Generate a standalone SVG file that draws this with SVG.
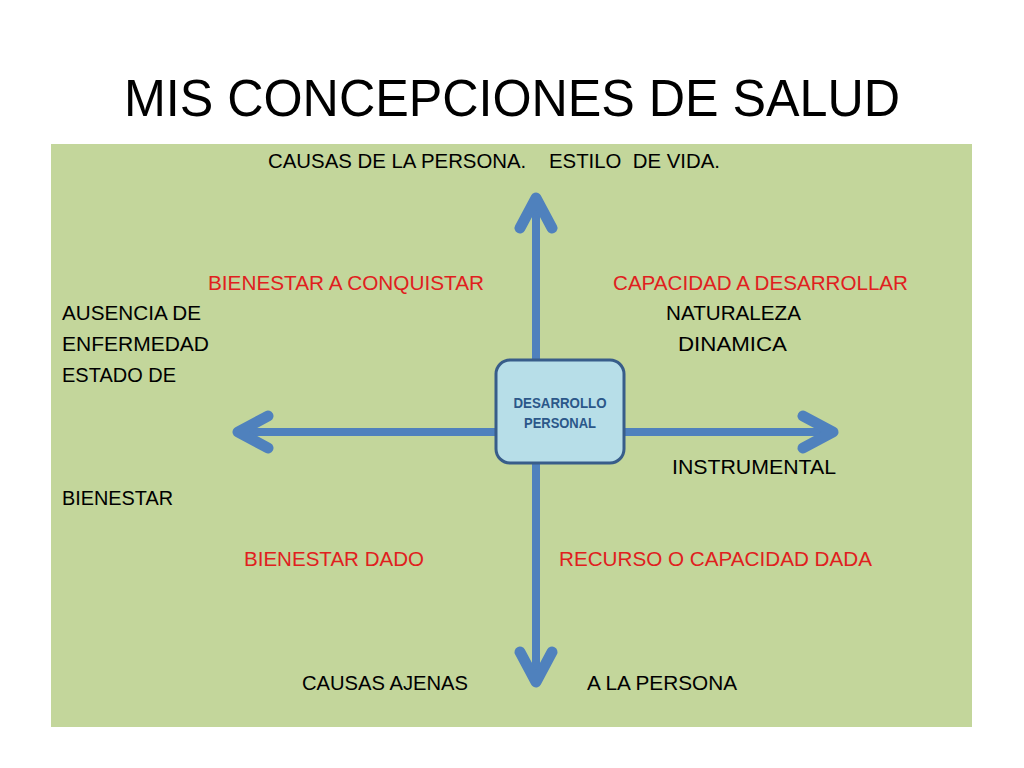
<svg xmlns="http://www.w3.org/2000/svg" width="1024" height="768" viewBox="0 0 1024 768">
<style>
.t{font-family:"Liberation Sans",Arial,sans-serif;font-size:19.5px;fill:#000}
.r{fill:#E0201E}
.title{font-family:"Liberation Sans",Arial,sans-serif;font-size:51px;fill:#000}
.ax{stroke:#4F81BD;stroke-width:8;fill:none}
.nt{font-family:"Liberation Sans",Arial,sans-serif;font-size:14px;font-weight:bold;fill:#2B5789;text-anchor:middle}
</style>
<defs>
<marker id="ah" markerUnits="userSpaceOnUse" viewBox="-40 -25 50 50" refX="0" refY="0" markerWidth="50" markerHeight="50" orient="auto" overflow="visible">
<path d="M-30,-16 L0,0 L-30,16" fill="none" stroke="#4F81BD" stroke-width="11" stroke-linecap="round" stroke-linejoin="round"/>
</marker>
</defs>
<rect width="1024" height="768" fill="#fff"/>
<text class="title" x="512" y="116" text-anchor="middle" textLength="776" lengthAdjust="spacingAndGlyphs">MIS CONCEPCIONES DE SALUD</text>
<rect id="panel" x="51" y="144" width="921" height="583" fill="#C3D69B"/>
<g id="connectors">
<line class="ax" x1="536" y1="362" x2="536" y2="198" marker-end="url(#ah)"/>
<line class="ax" x1="536" y1="460" x2="536" y2="682" marker-end="url(#ah)"/>
<line class="ax" x1="498" y1="432" x2="238" y2="432" marker-end="url(#ah)"/>
<line class="ax" x1="622" y1="432" x2="833" y2="432" marker-end="url(#ah)"/>
</g>
<g id="node-desarrollo">
<rect x="496" y="360" width="128" height="103" rx="14" fill="#B7DEE8" stroke="#385D8A" stroke-width="3"/>
<text class="nt" x="560" y="408" textLength="93" lengthAdjust="spacingAndGlyphs">DESARROLLO</text>
<text class="nt" x="560" y="428" textLength="72" lengthAdjust="spacingAndGlyphs">PERSONAL</text>
</g>
<g id="labels">
<text class="t" x="268" y="168" textLength="452" lengthAdjust="spacingAndGlyphs" xml:space="preserve">CAUSAS DE LA PERSONA.    ESTILO  DE VIDA.</text>
<text class="t r" x="208" y="290" textLength="276" lengthAdjust="spacingAndGlyphs">BIENESTAR A CONQUISTAR</text>
<text class="t r" x="613" y="290" textLength="295" lengthAdjust="spacingAndGlyphs">CAPACIDAD A DESARROLLAR</text>
<text class="t" x="62" y="320" textLength="139" lengthAdjust="spacingAndGlyphs">AUSENCIA DE</text>
<text class="t" x="666" y="320" textLength="135" lengthAdjust="spacingAndGlyphs">NATURALEZA</text>
<text class="t" x="62" y="351" textLength="147" lengthAdjust="spacingAndGlyphs">ENFERMEDAD</text>
<text class="t" x="678" y="351" textLength="109" lengthAdjust="spacingAndGlyphs">DINAMICA</text>
<text class="t" x="62" y="382" textLength="114" lengthAdjust="spacingAndGlyphs">ESTADO DE</text>
<text class="t" x="672" y="474" textLength="164" lengthAdjust="spacingAndGlyphs">INSTRUMENTAL</text>
<text class="t" x="62" y="505" textLength="111" lengthAdjust="spacingAndGlyphs">BIENESTAR</text>
<text class="t r" x="244" y="566" textLength="180" lengthAdjust="spacingAndGlyphs">BIENESTAR DADO</text>
<text class="t r" x="559" y="566" textLength="313" lengthAdjust="spacingAndGlyphs">RECURSO O CAPACIDAD DADA</text>
<text class="t" x="302" y="690" textLength="166" lengthAdjust="spacingAndGlyphs">CAUSAS AJENAS</text>
<text class="t" x="587" y="690" textLength="150" lengthAdjust="spacingAndGlyphs">A LA PERSONA</text>
</g>
</svg>
